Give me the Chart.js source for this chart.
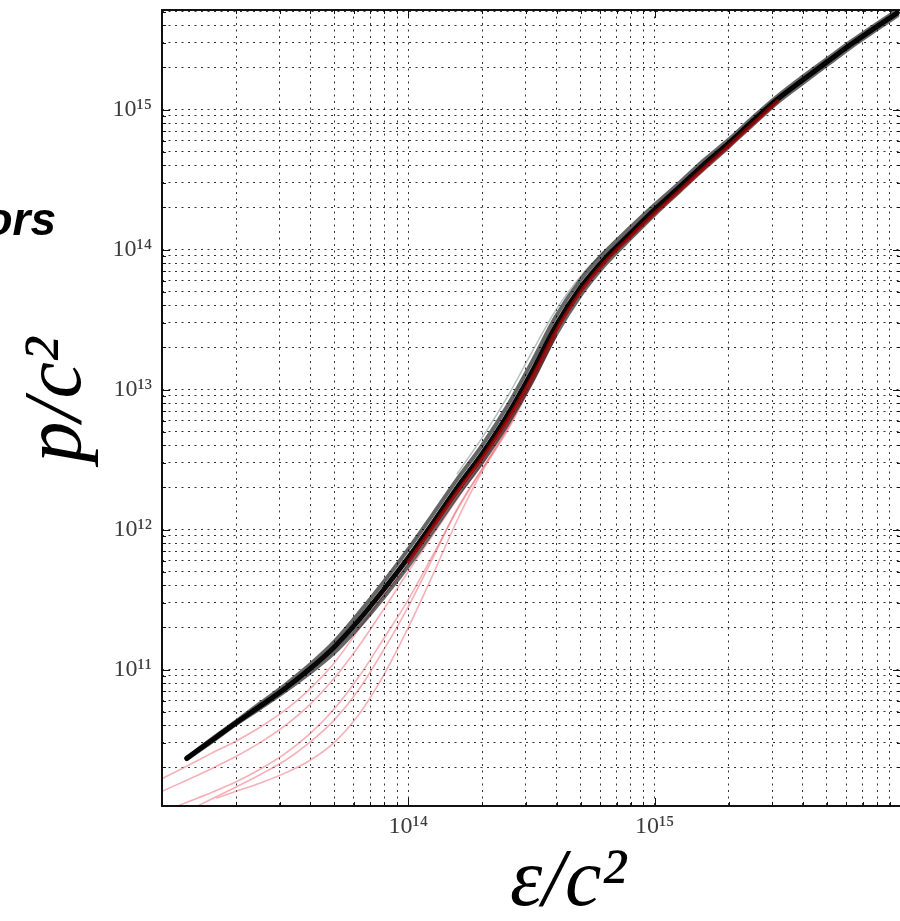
<!DOCTYPE html>
<html><head><meta charset="utf-8">
<script src="https://cdn.jsdelivr.net/npm/chart.js@4.4.1/dist/chart.umd.min.js"></script>
<style>
html,body{margin:0;padding:0;overflow:hidden;background:#fff;width:900px;height:921px}
#wrap{position:relative;width:904px;height:921px}
canvas{display:block}
</style></head><body><div id="wrap"><canvas id="c" width="904" height="921"></canvas></div>
<script>
// ---- axis ranges & tick labels ----
const xRange = [1e13, 1e16];
const yRange = [1.06e10, 5.14e15];
const xTickLabels = [1e14, 1e15];
const yTickLabels = [1e11, 1e12, 1e13, 1e14, 1e15];

// ---- black posterior band (epsilon/c^2 vs p/c^2) ----
const epsBand = [1.26e13,1.58e13,2.00e13,2.51e13,3.16e13,3.98e13,5.01e13,6.31e13,7.94e13,1.00e14,1.26e14,1.58e14,2.00e14,2.51e14,3.16e14,3.98e14,5.01e14,6.31e14,7.94e14,1.00e15,1.26e15,1.58e15,2.00e15,2.51e15,3.16e15,3.98e15,5.01e15,6.31e15,7.94e15,9.66e15];
const pBandMid = [2.32e10,3.09e10,4.17e10,5.50e10,7.33e10,1.01e11,1.45e11,2.26e11,3.72e11,6.31e11,1.12e12,2.00e12,3.51e12,6.46e12,1.32e13,2.88e13,5.37e13,8.71e13,1.30e14,1.93e14,2.79e14,4.03e14,5.75e14,8.32e14,1.19e15,1.62e15,2.19e15,2.95e15,3.89e15,4.90e15];
const pBandUpper = [2.34e10,3.16e10,4.27e10,5.75e10,7.76e10,1.08e11,1.58e11,2.54e11,4.22e11,7.24e11,1.29e12,2.29e12,4.03e12,7.50e12,1.55e13,3.35e13,6.10e13,9.66e13,1.43e14,2.09e14,2.99e14,4.32e14,6.10e14,8.81e14,1.25e15,1.71e15,2.30e15,3.09e15,4.07e15,5.13e15];
const pBandLower = [2.29e10,3.02e10,4.07e10,5.31e10,7.00e10,9.44e10,1.32e11,2.02e11,3.27e11,5.50e11,9.77e11,1.74e12,3.05e12,5.56e12,1.12e13,2.48e13,4.73e13,7.85e13,1.19e14,1.78e14,2.60e14,3.76e14,5.43e14,7.85e14,1.13e15,1.54e15,2.08e15,2.82e15,3.72e15,4.68e15];

// ---- dark red curve inside the band ----
const epsRed = [1.00e14,1.26e14,1.58e14,2.00e14,2.51e14,3.16e14,3.98e14,5.01e14,6.31e14,7.94e14,1.00e15,1.26e15,1.58e15,2.00e15,2.51e15,3.16e15];
const pRed = [5.89e11,1.05e12,1.86e12,3.27e12,5.96e12,1.20e13,2.63e13,5.01e13,8.22e13,1.23e14,1.82e14,2.63e14,3.80e14,5.50e14,7.94e14,1.15e15];

// ---- faint grey curve ----
const epsGrey = [1.58e14,2.00e14,2.51e14,3.16e14,3.98e14,5.01e14,6.31e14];
const pGrey = [2.51e12,4.57e12,8.71e12,1.82e13,3.72e13,6.46e13,1.00e14];

// ---- faint pink curves ----
const epsPink1 = [1.00e13,1.26e13,1.58e13,2.00e13,2.51e13,3.16e13,3.98e13,5.01e13,6.31e13,7.94e13,1.00e14,1.58e14,2.51e14,3.98e14];
const pPink1 = [1.66e10,2.04e10,2.51e10,3.09e10,3.89e10,5.13e10,7.24e10,1.12e11,1.95e11,3.39e11,5.75e11,1.82e12,5.89e12,2.63e13];
const epsPink2 = [1.00e13,1.26e13,1.58e13,2.00e13,2.51e13,3.16e13,3.98e13,5.01e13,6.31e13,7.94e13,1.00e14,1.58e14,2.51e14,3.98e14];
const pPink2 = [1.35e10,1.62e10,1.95e10,2.40e10,3.02e10,3.98e10,5.62e10,8.71e10,1.48e11,2.69e11,5.01e11,1.66e12,5.50e12,2.51e13];
const epsPink3 = [1.17e13,1.58e13,2.00e13,2.51e13,3.16e13,3.98e13,5.01e13,6.31e13,7.94e13,1.00e14,1.26e14,1.58e14,2.51e14,3.98e14];
const pPink3 = [1.07e10,1.32e10,1.58e10,1.95e10,2.51e10,3.47e10,5.25e10,8.91e10,1.66e11,3.16e11,6.61e11,1.38e12,5.25e12,2.40e13];
const epsPink4 = [1.67e13,2.00e13,2.51e13,3.16e13,3.98e13,5.01e13,6.31e13,7.94e13,1.00e14,1.26e14,1.58e14,2.00e14,2.51e14,3.16e14,3.98e14];
const pPink4 = [1.21e10,1.35e10,1.55e10,1.82e10,2.24e10,3.02e10,4.79e10,9.12e10,2.00e11,4.79e11,1.17e12,2.63e12,5.01e12,1.07e13,2.45e13];
const epsPink5 = [1.41e13,2.00e13,2.51e13,3.16e13,3.98e13,5.01e13,6.31e13,7.94e13,1.00e14,1.26e14,1.58e14,2.51e14,3.98e14];
const pPink5 = [1.07e10,1.45e10,1.78e10,2.24e10,3.02e10,4.37e10,7.24e10,1.38e11,2.82e11,6.31e11,1.41e12,5.13e12,2.40e13];

// ---- helpers ----
const pts = (xs, ys) => xs.map((x, i) => ({x: x, y: ys[i]}));
const SUP = {'0':'⁰','1':'¹','2':'²','3':'³','4':'⁴','5':'⁵','6':'⁶','7':'⁷','8':'⁸','9':'⁹','-':'⁻'};
const fmtPow = v => '10' + String(Math.round(Math.log10(v))).split('').map(c => SUP[c]).join('');
function decadeTicks(min, max) {
  const t = [];
  for (let e = Math.floor(Math.log10(min)); e <= Math.ceil(Math.log10(max)); e++) {
    for (let k = 1; k <= 9; k++) {
      const v = k * Math.pow(10, e);
      if (v >= min * 0.99999 && v <= max * 1.00001) t.push({value: v, major: k === 1});
    }
  }
  return t;
}
const isMajor = v => Math.abs(Math.log10(v) - Math.round(Math.log10(v))) < 1e-6;

const PINK = 'rgba(235,100,112,0.5)';
const tickFont = {family: "'Liberation Serif','DejaVu Serif',serif", size: 24};

const pinkSet = (xs, ys) => ({data: pts(xs, ys), borderColor: PINK, borderWidth: 1.6, order: 4});

const frameAndLabels = {
  id: 'frameAndLabels',
  afterDraw(chart) {
    const {ctx, chartArea: a, scales} = chart;
    ctx.save();
    // inward ticks on all four sides
    ctx.strokeStyle = '#111';
    ctx.lineWidth = 1;
    scales.x.ticks.forEach(t => {
      const px = Math.round(scales.x.getPixelForValue(t.value)) + 0.5;
      const L = isMajor(t.value) ? 8 : 4;
      ctx.beginPath();
      ctx.moveTo(px, a.bottom); ctx.lineTo(px, a.bottom - L);
      ctx.moveTo(px, a.top); ctx.lineTo(px, a.top + L);
      ctx.stroke();
    });
    scales.y.ticks.forEach(t => {
      const py = Math.round(scales.y.getPixelForValue(t.value)) + 0.5;
      const L = isMajor(t.value) ? 8 : 4;
      ctx.beginPath();
      ctx.moveTo(a.left, py); ctx.lineTo(a.left + L, py);
      ctx.moveTo(a.right, py); ctx.lineTo(a.right - L, py);
      ctx.stroke();
    });
    // frame
    ctx.lineWidth = 2;
    ctx.strokeStyle = '#111';
    ctx.strokeRect(a.left, a.top, a.right - a.left, a.bottom - a.top);
    // axis titles
    ctx.fillStyle = '#000';
    ctx.font = "italic 82px 'Liberation Serif','DejaVu Serif',serif";
    ctx.textAlign = 'center';
    ctx.textBaseline = 'alphabetic';
    ctx.fillText('ε/c²', 568, 905);
    ctx.save();
    ctx.translate(80, 400);
    ctx.rotate(-Math.PI / 2);
    ctx.fillText('p/c²', 0, 0);
    ctx.restore();
    // cut-off fragment of a neighbouring title
    ctx.font = "bold italic 46px 'Liberation Sans','Arial',sans-serif";
    ctx.textAlign = 'right';
    ctx.fillText('ors', 56, 235);
    ctx.restore();
  }
};

new Chart(document.getElementById('c'), {
  type: 'line',
  data: {
    datasets: [
      pinkSet(epsPink1, pPink1),
      pinkSet(epsPink2, pPink2),
      pinkSet(epsPink3, pPink3),
      pinkSet(epsPink4, pPink4),
      pinkSet(epsPink5, pPink5),
      {data: pts(epsGrey, pGrey), borderColor: 'rgba(110,130,130,0.5)', borderWidth: 1.5, order: 3},
      {data: pts(epsBand, pBandUpper), borderColor: 'rgba(0,0,0,0.6)', borderWidth: 4, order: 2},
      {data: pts(epsBand, pBandLower), borderColor: 'rgba(0,0,0,0.6)', borderWidth: 4, order: 2},
      {data: pts(epsBand, pBandMid), borderColor: 'rgba(0,0,0,0.97)', borderWidth: 5, order: 1},
      {data: pts(epsRed, pRed), borderColor: 'rgba(165,0,0,0.8)', borderWidth: 3.5, order: 0}
    ]
  },
  options: {
    responsive: false,
    animation: false,
    devicePixelRatio: 1,
    layout: {padding: {top: 10, right: 3, left: 0, bottom: 0}},
    plugins: {legend: {display: false}, tooltip: {enabled: false}},
    elements: {
      point: {radius: 0, hoverRadius: 0},
      line: {cubicInterpolationMode: 'monotone', borderCapStyle: 'round', borderJoinStyle: 'round', fill: false}
    },
    scales: {
      x: {
        type: 'logarithmic', position: 'bottom', min: xRange[0], max: xRange[1], bounds: 'data',
        afterBuildTicks: s => { s.ticks = decadeTicks(s.min, s.max); },
        afterFit: s => { s.height = 115; s.paddingLeft = 0; s.paddingRight = 0; },
        grid: {color: 'rgba(0,0,0,0.8)', lineWidth: 1, drawTicks: false},
        border: {display: false, dash: [2, 4.5]},
        ticks: {autoSkip: false, maxRotation: 0, minRotation: 0, padding: 6, font: tickFont, color: '#3c3c3c',
          callback: v => xTickLabels.includes(v) ? fmtPow(v) : ''}
      },
      y: {
        type: 'logarithmic', position: 'left', min: yRange[0], max: yRange[1], bounds: 'data',
        afterBuildTicks: s => { s.ticks = decadeTicks(s.min, s.max); },
        afterFit: s => { s.width = 162; s.paddingTop = 0; s.paddingBottom = 0; },
        grid: {color: 'rgba(0,0,0,0.8)', lineWidth: 1, drawTicks: false},
        border: {display: false, dash: [2, 4.5]},
        ticks: {autoSkip: false, padding: 10, font: tickFont, color: '#3c3c3c',
          callback: v => yTickLabels.includes(v) ? fmtPow(v) : ''}
      }
    }
  },
  plugins: [frameAndLabels]
});
</script></body></html>
